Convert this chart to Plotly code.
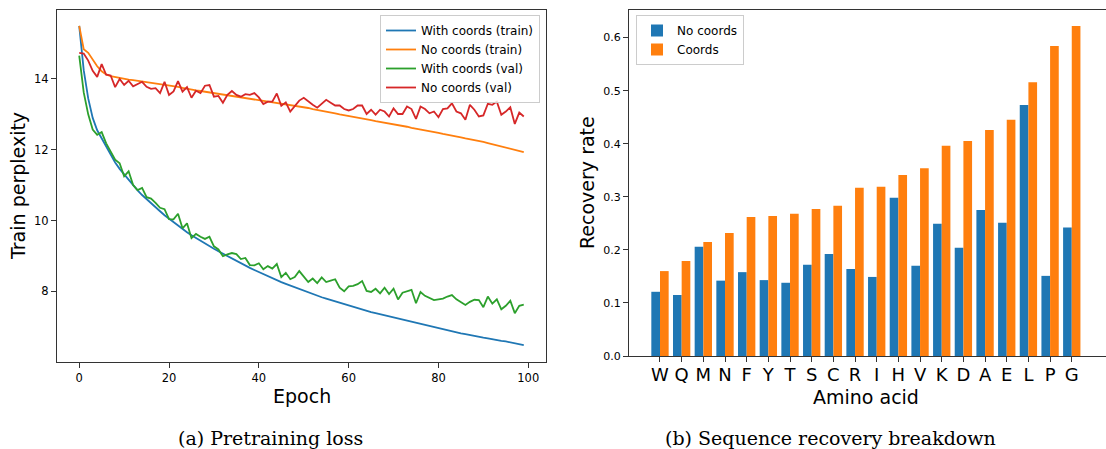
import plotly.graph_objects as go

# ---- (a) pretraining loss curves -------------------------------------------
epochs = list(range(100))

with_coords_train = [
    15.50, 14.25, 13.45, 12.90, 12.55, 12.33, 12.08, 11.85, 11.64, 11.46,
    11.30, 11.14, 10.99, 10.85, 10.72, 10.60, 10.48, 10.37, 10.26, 10.15,
    10.05, 9.95, 9.86, 9.76, 9.67, 9.58, 9.50, 9.42, 9.34, 9.27,
    9.20, 9.13, 9.06, 8.99, 8.92, 8.86, 8.79, 8.73, 8.66, 8.60,
    8.54, 8.48, 8.43, 8.37, 8.32, 8.26, 8.21, 8.16, 8.11, 8.06,
    8.01, 7.97, 7.92, 7.87, 7.83, 7.79, 7.75, 7.71, 7.67, 7.63,
    7.59, 7.55, 7.51, 7.48, 7.44, 7.41, 7.38, 7.35, 7.31, 7.28,
    7.25, 7.22, 7.19, 7.15, 7.12, 7.09, 7.06, 7.03, 7.00, 6.97,
    6.95, 6.92, 6.89, 6.86, 6.84, 6.81, 6.79, 6.76, 6.74, 6.71,
    6.69, 6.67, 6.64, 6.62, 6.60, 6.58, 6.55, 6.53, 6.51, 6.48,
]

no_coords_train = [
    15.50, 14.84, 14.74, 14.55, 14.36, 14.22, 14.13, 14.08, 14.05, 14.02,
    14.00, 13.98, 13.97, 13.95, 13.94, 13.93, 13.91, 13.89, 13.87, 13.85,
    13.83, 13.81, 13.78, 13.75, 13.72, 13.70, 13.68, 13.66, 13.64, 13.62,
    13.60, 13.58, 13.57, 13.55, 13.53, 13.51, 13.49, 13.48, 13.46, 13.44,
    13.42, 13.40, 13.38, 13.36, 13.34, 13.32, 13.29, 13.27, 13.25, 13.22,
    13.20, 13.18, 13.15, 13.13, 13.10, 13.08, 13.05, 13.03, 13.00, 12.98,
    12.95, 12.93, 12.91, 12.88, 12.86, 12.84, 12.81, 12.79, 12.77, 12.74,
    12.72, 12.70, 12.67, 12.65, 12.62, 12.60, 12.58, 12.55, 12.53, 12.50,
    12.48, 12.45, 12.43, 12.40, 12.38, 12.35, 12.32, 12.30, 12.27, 12.25,
    12.22, 12.19, 12.16, 12.13, 12.09, 12.06, 12.03, 12.00, 11.96, 11.93,
]

with_coords_val = [
    14.66, 13.62, 13.00, 12.57, 12.42, 12.50, 12.18, 11.95, 11.72, 11.62,
    11.25, 11.39, 11.00, 10.86, 10.92, 10.66, 10.62, 10.50, 10.36, 10.32,
    10.04, 10.03, 10.19, 9.78, 9.92, 9.50, 9.62, 9.54, 9.48, 9.54,
    9.27, 9.18, 8.99, 9.04, 9.08, 9.05, 8.91, 8.94, 8.74, 8.73,
    8.79, 8.62, 8.71, 8.64, 8.77, 8.40, 8.52, 8.34, 8.40, 8.57,
    8.42, 8.26, 8.36, 8.23, 8.39, 8.26, 8.30, 8.34, 8.10, 8.00,
    8.14, 8.15, 8.20, 8.29, 8.01, 7.98, 8.07, 7.94, 8.10, 7.92,
    8.07, 7.77, 7.96, 8.01, 8.04, 7.66, 7.98, 7.87, 7.82, 7.75,
    7.77, 7.79, 7.85, 7.89, 7.77, 7.70, 7.61, 7.70, 7.76, 7.75,
    7.55, 7.85, 7.65, 7.77, 7.49, 7.59, 7.73, 7.38, 7.59, 7.62,
]

no_coords_val = [
    14.74, 14.72, 14.52, 14.23, 14.06, 14.42, 14.12, 14.10, 13.77, 14.00,
    13.83, 13.95, 13.79, 13.86, 13.92, 13.78, 13.72, 13.74, 13.60, 13.92,
    13.55, 13.65, 13.94, 13.64, 13.77, 13.47, 13.67, 13.60, 13.81, 13.83,
    13.50, 13.52, 13.33, 13.55, 13.66, 13.55, 13.50, 13.57, 13.55, 13.60,
    13.48, 13.29, 13.36, 13.36, 13.59, 13.24, 13.34, 13.08, 13.24, 13.39,
    13.47, 13.36, 13.27, 13.19, 13.31, 13.41, 13.33, 13.25, 13.25, 13.15,
    13.11, 13.15, 13.25, 13.25, 13.01, 13.13, 12.99, 13.13, 13.08, 12.94,
    13.17, 13.01, 13.01, 13.22, 13.15, 12.87, 13.22, 13.15, 13.03, 13.08,
    12.92, 13.15, 13.17, 13.31, 13.08, 13.03, 12.85, 13.27, 13.13, 12.94,
    12.97, 13.30, 13.27, 13.36, 12.99, 13.08, 13.20, 12.73, 13.05, 12.94,
]

loss_series = [
    ("With coords (train)", with_coords_train, "#1f77b4"),
    ("No coords (train)", no_coords_train, "#ff7f0e"),
    ("With coords (val)", with_coords_val, "#2ca02c"),
    ("No coords (val)", no_coords_val, "#d62728"),
]

# ---- (b) per-residue sequence recovery ---------------------------------------
amino_acids = ["W", "Q", "M", "N", "F", "Y", "T", "S", "C", "R",
               "I", "H", "V", "K", "D", "A", "E", "L", "P", "G"]
recovery_no_coords = [0.121, 0.115, 0.206, 0.142, 0.158, 0.143, 0.138, 0.172, 0.192, 0.164,
                      0.149, 0.298, 0.170, 0.249, 0.204, 0.275, 0.251, 0.473, 0.151, 0.242]
recovery_coords = [0.160, 0.179, 0.215, 0.232, 0.262, 0.264, 0.268, 0.277, 0.283, 0.317,
                   0.319, 0.341, 0.354, 0.396, 0.405, 0.426, 0.445, 0.516, 0.584, 0.622]

W, H = 1106, 449


def fx(px):
    return px / W


def fy(py):
    return 1 - py / H


SANS = "DejaVu Sans"
SERIF = "DejaVu Serif"
SPINE = "#333333"

fig = go.Figure()

for name, values, color in loss_series:
    fig.add_trace(go.Scatter(
        x=epochs, y=values, mode="lines", name=name,
        line=dict(color=color, width=1.8),
        xaxis="x", yaxis="y", legend="legend",
    ))

fig.add_trace(go.Bar(
    x=amino_acids, y=recovery_no_coords, name="No coords",
    marker=dict(color="#1f77b4", line=dict(width=0)),
    xaxis="x2", yaxis="y2", legend="legend2",
))
fig.add_trace(go.Bar(
    x=amino_acids, y=recovery_coords, name="Coords",
    marker=dict(color="#ff7f0e", line=dict(width=0)),
    xaxis="x2", yaxis="y2", legend="legend2",
))

axis_common = dict(
    showgrid=False, zeroline=False, showline=True, linecolor=SPINE, linewidth=1,
    ticks="outside", ticklen=5, tickwidth=1, tickcolor=SPINE, automargin=False,
)

legend_common = dict(
    bgcolor="rgba(255,255,255,0.8)", bordercolor="#cccccc", borderwidth=1,
    font=dict(family=SANS, size=12, color="black"),
    yanchor="top", tracegroupgap=0,
)

fig.update_layout(
    width=W, height=H,
    margin=dict(l=0, r=0, t=0, b=0, autoexpand=False),
    paper_bgcolor="white", plot_bgcolor="white",
    font=dict(family=SANS, color="black"),
    barmode="group", bargap=0.2, bargroupgap=0,
    xaxis=dict(
        **axis_common, mirror=True, anchor="y",
        domain=[fx(57), fx(546)], range=[-4.95, 103.95],
        tickvals=[0, 20, 40, 60, 80, 100],
        tickfont=dict(family=SANS, size=11.5, color="black"),
    ),
    yaxis=dict(
        **axis_common, mirror=True, anchor="x",
        domain=[fy(362), fy(10)], range=[6.0, 15.95],
        tickvals=[8, 10, 12, 14],
        tickfont=dict(family=SANS, size=11.5, color="black"),
    ),
    xaxis2=dict(
        **axis_common, mirror=True, anchor="y2",
        domain=[fx(629), 1.0], range=[-1.43, 20.58],
        tickmode="array", tickvals=amino_acids, ticktext=amino_acids,
        ticklabelstandoff=-3,
        tickfont=dict(family=SANS, size=18, color="black"),
    ),
    yaxis2=dict(
        **axis_common, anchor="x2",
        domain=[fy(356), fy(10)], range=[0, 0.652],
        tickvals=[0.0, 0.1, 0.2, 0.3, 0.4, 0.5, 0.6], tickformat=".1f",
        tickfont=dict(family=SANS, size=11, color="black"),
    ),
    legend=dict(**legend_common, x=fx(540), xanchor="right", y=fy(15)),
    legend2=dict(**legend_common, x=fx(636), xanchor="left", y=fy(15)),
)

annotations = [
    dict(text="Epoch", x=fx(301.5), y=fy(396), font=dict(family=SANS, size=19)),
    dict(text="Train perplexity", x=fx(18), y=fy(186), textangle=-90,
         font=dict(family=SANS, size=19)),
    dict(text="Amino acid", x=fx(866), y=fy(397), font=dict(family=SANS, size=19)),
    dict(text="Recovery rate", x=fx(587), y=fy(183), textangle=-90,
         font=dict(family=SANS, size=19)),
    dict(text="(a) Pretraining loss", x=fx(270), y=fy(438),
         font=dict(family=SERIF, size=19)),
    dict(text="(b) Sequence recovery breakdown", x=fx(830), y=fy(438),
         font=dict(family=SERIF, size=19)),
]
for a in annotations:
    fig.add_annotation(xref="paper", yref="paper", showarrow=False,
                       xanchor="center", yanchor="middle", **a)

fig.write_html("out.html")
